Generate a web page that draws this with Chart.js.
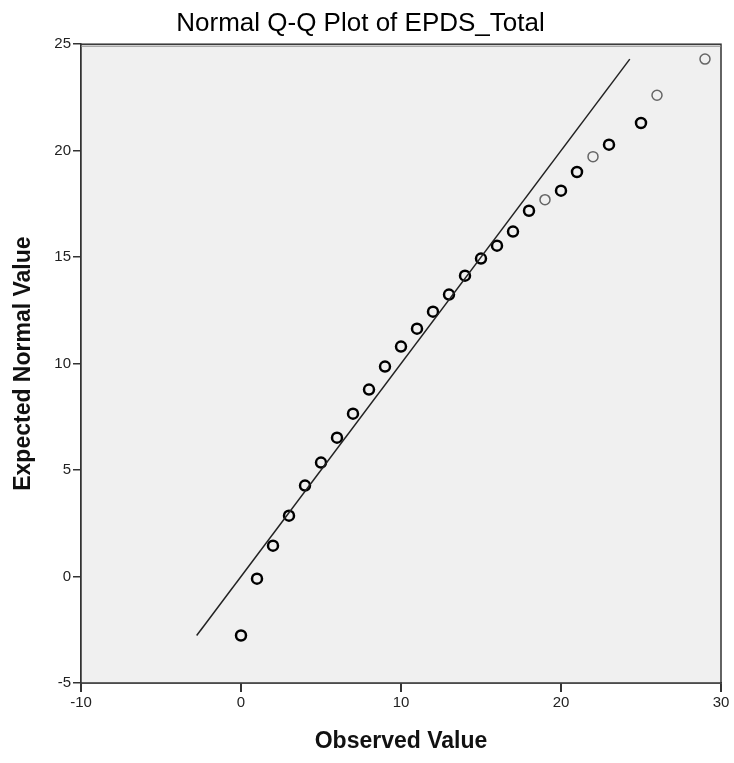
<!DOCTYPE html>
<html>
<head>
<meta charset="utf-8">
<script src="https://cdn.jsdelivr.net/npm/chart.js@4/dist/chart.umd.min.js"></script>
<style>
  html, body { margin: 0; padding: 0; background: #fff; }
  #wrap { width: 734px; height: 763px; }
</style>
</head>
<body>
<div id="wrap"><canvas id="qq"></canvas></div>
<script>
// observed EPDS_Total values and their expected normal values
const observed = [0, 1, 2, 3, 4, 5, 6, 7, 8, 9, 10, 11, 12, 13, 14, 15, 16, 17, 18, 19, 20, 21, 22, 23, 25, 26, 29];
const expected = [-2.77, -0.1, 1.45, 2.86, 4.27, 5.35, 6.52, 7.65, 8.78, 9.86, 10.8, 11.64, 12.44, 13.24, 14.13, 14.93, 15.54, 16.2, 17.18, 17.7, 18.12, 19.0, 19.72, 20.28, 21.3, 22.6, 24.3];
// values that show up as the lighter markers
const lightObs = [19, 22, 26, 29];
// reference line y = x
const refLine = [-2.77, 24.3];

const xTicks = [-10, 0, 10, 20, 30];
const yTicks = [-5, 0, 5, 10, 15, 20, 25];

const axisColor = '#333';
const font = "'Liberation Sans', Arial, sans-serif";

// grey panel + frame around the plot area
const panel = {
  id: 'panel',
  beforeDatasetsDraw(chart) {
    const { ctx, chartArea: a } = chart;
    ctx.save();
    ctx.fillStyle = '#f0f0f0';
    ctx.fillRect(a.left, a.top, a.right - a.left, a.bottom - a.top);
    ctx.restore();
  },
  afterDatasetsDraw(chart) {
    const { ctx, chartArea: a } = chart;
    ctx.save();
    ctx.strokeStyle = axisColor;
    ctx.lineWidth = 1.5;
    ctx.strokeRect(a.left, a.top, a.right - a.left, a.bottom - a.top);
    ctx.strokeStyle = '#888';
    ctx.lineWidth = 1;
    ctx.beginPath();
    ctx.moveTo(a.left, a.top + 2);
    ctx.lineTo(a.right, a.top + 2);
    ctx.stroke();
    ctx.restore();
  }
};

new Chart(document.getElementById('qq'), {
  type: 'scatter',
  data: {
    datasets: [
      {
        type: 'line',
        data: refLine.map(v => ({ x: v, y: v })),
        borderColor: '#222',
        borderWidth: 1.5,
        pointRadius: 0,
        fill: false
      },
      {
        data: observed.map((v, i) => ({ x: v, y: expected[i] })),
        pointRadius: 5,
        pointBackgroundColor: 'rgba(0,0,0,0)',
        pointBorderColor: c => lightObs.includes(observed[c.dataIndex]) ? '#666' : '#000',
        pointBorderWidth: c => lightObs.includes(observed[c.dataIndex]) ? 1.5 : 2.5
      }
    ]
  },
  options: {
    responsive: true,
    maintainAspectRatio: false,
    animation: false,
    layout: { padding: { top: 0, left: 0, right: 13, bottom: 0 } },
    plugins: {
      legend: { display: false },
      tooltip: { enabled: false },
      title: {
        display: true,
        text: 'Normal Q-Q Plot of EPDS_Total',
        color: '#000',
        font: { family: font, size: 26, weight: 'normal' },
        padding: { top: 8, bottom: 5 }
      }
    },
    scales: {
      x: {
        type: 'linear',
        min: -10, max: 30,
        afterBuildTicks: s => { s.ticks = xTicks.map(v => ({ value: v })); },
        afterFit: s => { s.height = 80; },
        grid: { drawOnChartArea: false, tickLength: 9, color: axisColor, lineWidth: 2 },
        border: { color: axisColor, width: 1.5 },
        ticks: { color: '#222', padding: 2, font: { family: font, size: 15 } },
        title: {
          display: true,
          text: 'Observed Value',
          color: '#111',
          font: { family: font, size: 23, weight: 'bold' },
          padding: { top: 0, bottom: 8 }
        }
      },
      y: {
        type: 'linear',
        min: -5, max: 25,
        afterBuildTicks: s => { s.ticks = yTicks.map(v => ({ value: v })); },
        afterFit: s => { s.width = 81; },
        grid: { drawOnChartArea: false, tickLength: 8, color: axisColor, lineWidth: 1.5 },
        border: { color: axisColor, width: 1.5 },
        ticks: { color: '#222', padding: 2, font: { family: font, size: 15 } },
        title: {
          display: true,
          text: 'Expected Normal Value',
          color: '#111',
          font: { family: font, size: 23, weight: 'bold' },
          padding: { top: 10, bottom: 0 }
        }
      }
    }
  },
  plugins: [panel]
});
</script>
</body>
</html>
